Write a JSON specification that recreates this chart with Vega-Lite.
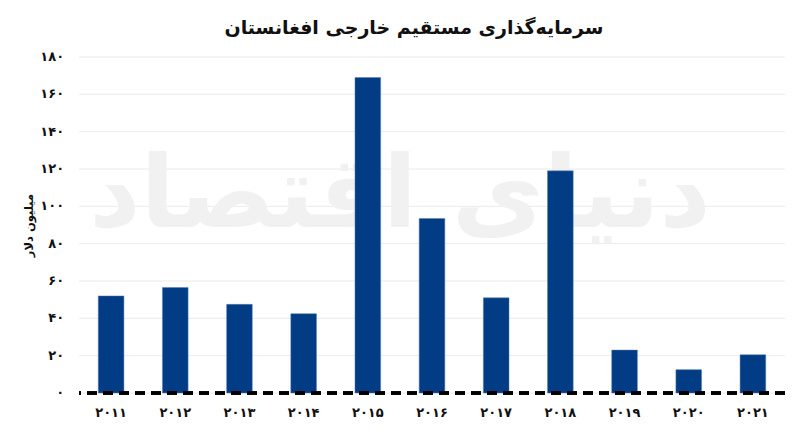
{
  "$schema": "https://vega.github.io/schema/vega-lite/v6.json",
  "width": 706,
  "height": 336,
  "autosize": {"type": "none"},
  "padding": {"left": 79, "top": 57, "right": 19, "bottom": 50},
  "background": "white",
  "config": {
    "font": "DejaVu Sans",
    "view": {"stroke": null}
  },
  "title": {
    "text": "سرمایه‌گذاری مستقیم خارجی افغانستان",
    "fontSize": 19,
    "fontWeight": "bold",
    "color": "#111111",
    "anchor": "middle",
    "offset": 13,
    "dx": -18
  },
  "datasets": {
    "fdi": [
      {"year": "۲۰۱۱", "value": 52},
      {"year": "۲۰۱۲", "value": 56.5},
      {"year": "۲۰۱۳", "value": 47.5},
      {"year": "۲۰۱۴", "value": 42.5},
      {"year": "۲۰۱۵", "value": 169},
      {"year": "۲۰۱۶", "value": 93.5},
      {"year": "۲۰۱۷", "value": 51},
      {"year": "۲۰۱۸", "value": 119},
      {"year": "۲۰۱۹", "value": 23},
      {"year": "۲۰۲۰", "value": 12.5},
      {"year": "۲۰۲۱", "value": 20.5}
    ],
    "wm": [{"label": "دنیای اقتصاد"}],
    "grid": [
      {"g": 0, "t": "۰"}, {"g": 20, "t": "۲۰"}, {"g": 40, "t": "۴۰"}, {"g": 60, "t": "۶۰"}, {"g": 80, "t": "۸۰"},
      {"g": 100, "t": "۱۰۰"}, {"g": 120, "t": "۱۲۰"}, {"g": 140, "t": "۱۴۰"}, {"g": 160, "t": "۱۶۰"}, {"g": 180, "t": "۱۸۰"}
    ]
  },
  "layer": [
    {
      "data": {"name": "grid"},
      "mark": {"type": "rule", "color": "#ebebeb", "strokeWidth": 1},
      "encoding": {
        "y": {
          "field": "g",
          "type": "quantitative",
          "scale": {"domain": [0, 180], "nice": false},
          "axis": {
            "title": "میلیون دلار",
            "titleFontSize": 11.5,
            "titleFontWeight": "bold",
            "titleColor": "#111111",
            "titlePadding": 45,
            "labels": false,
            "domain": false,
            "ticks": false,
            "grid": false
          }
        }
      }
    },
    {
      "data": {"name": "wm"},
      "mark": {"type": "text", "fontSize": 100, "fontWeight": "bold", "color": "#f1f1f1", "align": "center", "baseline": "middle", "dx": -32},
      "encoding": {
        "x": {
          "datum": "۲۰۱۶",
          "type": "nominal",
          "scale": {"domain": ["۲۰۱۱", "۲۰۱۲", "۲۰۱۳", "۲۰۱۴", "۲۰۱۵", "۲۰۱۶", "۲۰۱۷", "۲۰۱۸", "۲۰۱۹", "۲۰۲۰", "۲۰۲۱"], "paddingInner": 0.6, "paddingOuter": 0.3},
          "axis": {
            "title": null,
            "domain": false,
            "ticks": false,
            "labelAngle": 0,
            "labelFontSize": 13,
            "labelFontWeight": "bold",
            "labelColor": "#111111",
            "labelPadding": 13
          }
        },
        "y": {"datum": 105, "type": "quantitative"},
        "text": {"field": "label"}
      }
    },
    {
      "data": {"name": "grid"},
      "mark": {"type": "text", "fontSize": 13, "fontWeight": "bold", "color": "#111111", "align": "right", "baseline": "middle", "dx": -47},
      "encoding": {
        "x": {"datum": "۲۰۱۱", "type": "nominal"},
        "y": {"field": "g", "type": "quantitative"},
        "text": {"field": "t"}
      }
    },
    {
      "data": {"name": "fdi"},
      "mark": {"type": "bar", "color": "#023c85", "stroke": "#5b7fb5", "strokeWidth": 0.5},
      "encoding": {
        "x": {"field": "year", "type": "nominal", "sort": null},
        "y": {"field": "value", "type": "quantitative"}
      }
    },
    {
      "data": {"name": "fdi"},
      "mark": {"type": "rule", "color": "#000000", "strokeWidth": 2.5, "strokeDash": [10, 6]},
      "encoding": {
        "y": {"datum": 0, "type": "quantitative"}
      }
    }
  ]
}
